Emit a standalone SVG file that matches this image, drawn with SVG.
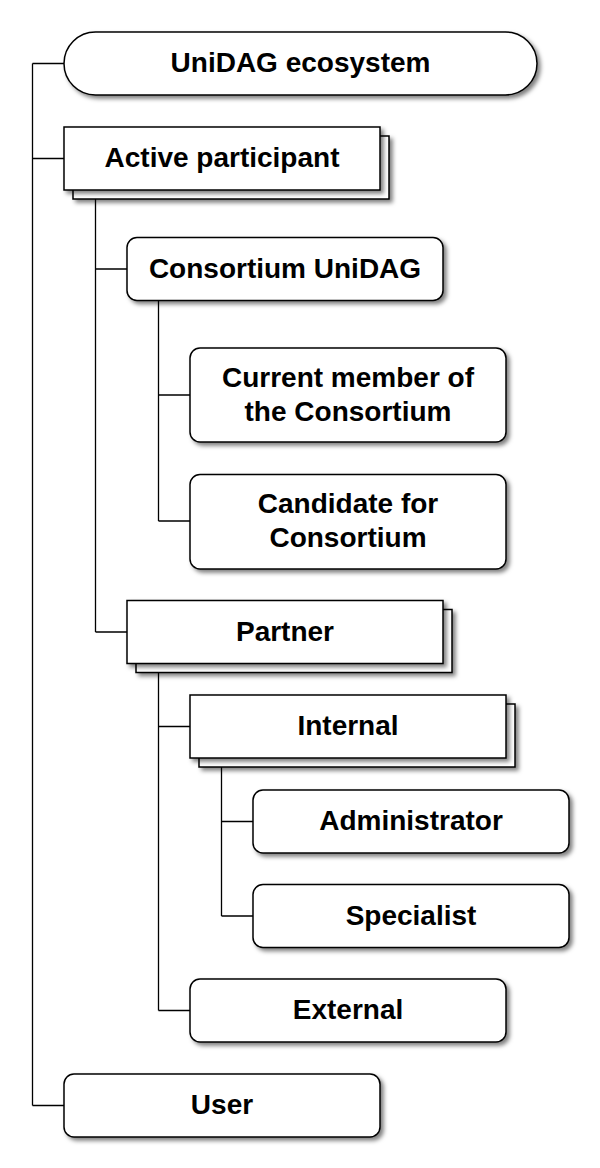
<svg xmlns="http://www.w3.org/2000/svg" width="600" height="1168" viewBox="0 0 600 1168">
<defs>
<filter id="sh" x="-10%" y="-20%" width="130%" height="160%">
<feDropShadow dx="3" dy="3" stdDeviation="2.2" flood-color="#000" flood-opacity="0.5"/>
</filter>
<style>
.n{fill:#fff;stroke:#000;stroke-width:1.5;filter:url(#sh)}
.t{font-family:"Liberation Sans",Arial,sans-serif;font-weight:bold;font-size:28px;fill:#000;text-anchor:middle}
.c{fill:none;stroke:#000;stroke-width:1.3}
</style>
</defs>
<rect width="600" height="1168" fill="#fff"/>
<g id="connectors">
<path class="c" d="M32.5 63.5V1105.5M32.5 63.5H64M32.5 158.5H64M32.5 1105.5H64"/>
<path class="c" d="M95.5 199V632M95.5 269H127M95.5 632H127"/>
<path class="c" d="M158.5 300.5V521M158.5 395H190M158.5 521H190"/>
<path class="c" d="M158.5 672.5V1010.5M158.5 726.5H190M158.5 1010.5H190"/>
<path class="c" d="M221.5 767V916M221.5 821.5H253M221.5 916H253"/>
</g>
<g id="n-ecosystem">
<rect class="n" x="64" y="32" width="473" height="63" rx="31.5"/>
<text class="t" x="300.5" y="72">UniDAG ecosystem</text>
</g>
<g id="n-active">
<rect class="n" x="73" y="136" width="316" height="63"/>
<rect class="n" x="64" y="127" width="316" height="63"/>
<text class="t" x="222" y="167">Active participant</text>
</g>
<g id="n-consortium">
<rect class="n" x="127" y="237.5" width="316" height="63" rx="10"/>
<text class="t" x="285" y="277.5">Consortium UniDAG</text>
</g>
<g id="n-current">
<rect class="n" x="190" y="348" width="316" height="94" rx="10"/>
<text class="t" x="348" y="386.5">Current member of</text>
<text class="t" x="348" y="420.5">the Consortium</text>
</g>
<g id="n-candidate">
<rect class="n" x="190" y="474.5" width="316" height="94.5" rx="10"/>
<text class="t" x="348" y="513">Candidate for</text>
<text class="t" x="348" y="547">Consortium</text>
</g>
<g id="n-partner">
<rect class="n" x="136" y="609.5" width="316" height="63"/>
<rect class="n" x="127" y="600.5" width="316" height="63"/>
<text class="t" x="285" y="640.5">Partner</text>
</g>
<g id="n-internal">
<rect class="n" x="199" y="704" width="316" height="63"/>
<rect class="n" x="190" y="695" width="316" height="63"/>
<text class="t" x="348" y="735">Internal</text>
</g>
<g id="n-administrator">
<rect class="n" x="253" y="790" width="316" height="63" rx="10"/>
<text class="t" x="411" y="830">Administrator</text>
</g>
<g id="n-specialist">
<rect class="n" x="253" y="884.5" width="316" height="63" rx="10"/>
<text class="t" x="411" y="924.5">Specialist</text>
</g>
<g id="n-external">
<rect class="n" x="190" y="979" width="316" height="63" rx="10"/>
<text class="t" x="348" y="1019">External</text>
</g>
<g id="n-user">
<rect class="n" x="64" y="1074" width="316" height="63" rx="10"/>
<text class="t" x="222" y="1114">User</text>
</g>
</svg>
